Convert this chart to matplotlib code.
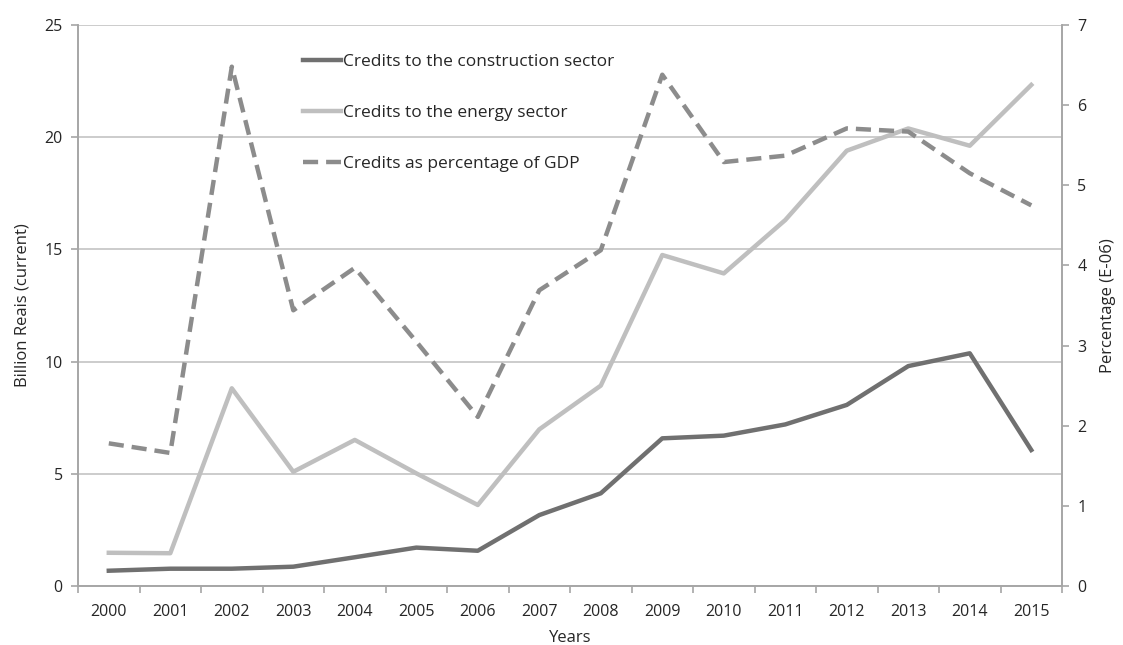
import numpy as np
import matplotlib.pyplot as plt

plt.rcParams['font.family'] = ['Open Sans', 'DejaVu Sans']

years = ["2000", "2001", "2002", "2003", "2004", "2005", "2006", "2007",
         "2008", "2009", "2010", "2011", "2012", "2013", "2014", "2015"]
construction = [0.68, 0.77, 0.77, 0.86, 1.28, 1.71, 1.57, 3.16,
                4.13, 6.58, 6.70, 7.20, 8.07, 9.80, 10.37, 6.06]
energy = [1.48, 1.46, 8.81, 5.09, 6.51, 5.02, 3.61, 6.98,
          8.93, 14.75, 13.93, 16.31, 19.40, 20.39, 19.62, 22.33]
gdp_pct = [1.78, 1.66, 6.48, 3.44, 3.97, 3.05, 2.11, 3.69,
           4.19, 6.38, 5.29, 5.37, 5.71, 5.67, 5.15, 4.75]

x = np.arange(len(years))
spine_c = "#a6a6a6"
txt_c = "#262626"

fig = plt.figure(figsize=(11.23, 6.45), dpi=100)
ax = fig.add_axes([0.0695, 0.0915, 0.8762, 0.8697])
ax2 = ax.twinx()

l1, = ax.plot(x, construction, color="#707070", lw=3.2)
l2, = ax.plot(x, energy, color="#bfbfbf", lw=3.2)
l3, = ax2.plot(x, gdp_pct, color="#8c8c8c", lw=3.2, ls=(0, (3.4, 1.8)))

ax.set_xlim(-0.5, len(years) - 0.5)
ax.set_ylim(0, 25)
ax2.set_ylim(0, 7)
ax.set_yticks(np.arange(0, 26, 5))
ax2.set_yticks(np.arange(0, 8, 1))
ax.set_xticks(x)
ax.set_xticklabels(years)
ax.set_xticks(np.arange(-0.5, len(years), 1), minor=True)
ax.tick_params(axis="x", which="major", length=0, pad=13, labelsize=11.5, colors=txt_c)
ax.tick_params(axis="x", which="minor", length=5, color=spine_c, width=1.2)
ax.tick_params(axis="y", length=5, color=spine_c, width=1.2, labelsize=11.5, labelcolor=txt_c, pad=6)
ax2.tick_params(axis="y", length=5, color=spine_c, width=1.2, labelsize=11.5, labelcolor=txt_c, pad=6)

ax.yaxis.grid(True, color="#c8c8c8", lw=1.3)
ax.set_axisbelow(True)
for a in (ax, ax2):
    a.spines["top"].set_visible(False)
    for s in ("left", "right", "bottom"):
        a.spines[s].set_color(spine_c)
        a.spines[s].set_linewidth(1.2)

ax.set_xlabel("Years", fontsize=12, color=txt_c, labelpad=7)
ax.set_ylabel("Billion Reais (current)", fontsize=12, color=txt_c, labelpad=10)
ax2.set_ylabel("Percentage (E-06)", fontsize=12, color=txt_c, labelpad=10)

leg = ax.legend([l1, l2, l3],
                ["Credits to the construction sector", "Credits to the energy sector",
                 "Credits as percentage of GDP"],
                loc="upper left", bbox_to_anchor=(0.213, 0.976), frameon=False,
                fontsize=12.5, handlelength=2.2, handletextpad=0.1, labelspacing=2.0)
for t in leg.get_texts():
    t.set_color(txt_c)

fig.savefig("out.png", dpi=100)
